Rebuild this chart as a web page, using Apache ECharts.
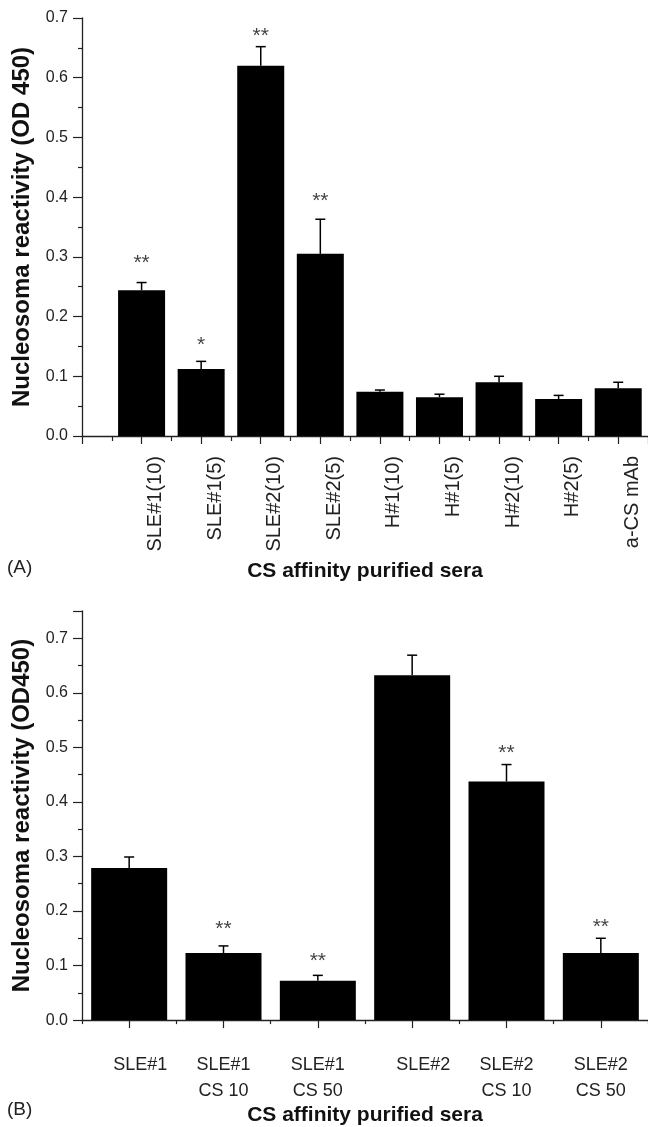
<!DOCTYPE html>
<html>
<head>
<meta charset="utf-8">
<script src="https://cdn.jsdelivr.net/npm/echarts@6/dist/echarts.min.js"></script>
<style>
html,body{margin:0;padding:0;background:#fff;}
#c{width:648px;height:1127px;}
</style>
</head>
<body>
<div id="c"></div>
<script>
// Panel A data
const catsA = ['SLE#1(10)','SLE#1(5)','SLE#2(10)','SLE#2(5)','H#1(10)','H#1(5)','H#2(10)','H#2(5)','a-CS mAb'];
const valsA = [0.244,0.112,0.620,0.305,0.074,0.065,0.090,0.062,0.080];
const errA  = [0.013,0.013,0.032,0.058,0.003,0.005,0.010,0.006,0.010];
const starsA = ['**','*','**','**','','','','',''];
const starYA = [0.298,0.161,0.678,0.401,null,null,null,null,null];
const ticksA = [0.0,0.1,0.2,0.3,0.4,0.5,0.6,0.7];

// Panel B data
const catsB = ['SLE#1','SLE#1\nCS 10','SLE#1\nCS 50','SLE#2','SLE#2\nCS 10','SLE#2\nCS 50'];
const valsB = [0.279,0.123,0.072,0.632,0.4375,0.123];
const errB  = [0.020,0.013,0.010,0.037,0.031,0.027];
const starsB = ['','**','**','','**','**'];
const starYB = [null,0.176,0.117,null,0.498,0.179];
const ticksB = [0.0,0.1,0.2,0.3,0.4,0.5,0.6,0.7];

const FONT = '"Liberation Sans", Arial, Helvetica, sans-serif';
const AX = '#222';

function errRender(params, api){
  const x = api.value(0), y = api.value(1), e = api.value(2);
  const p0 = api.coord([x, y]);
  const p1 = api.coord([x, y + e]);
  return {type:'group', children:[
    {type:'line', shape:{x1:p0[0], y1:p0[1], x2:p1[0], y2:p1[1]}, style:{stroke:'#000', lineWidth:1.5}},
    {type:'line', shape:{x1:p1[0]-5, y1:p1[1], x2:p1[0]+5, y2:p1[1]}, style:{stroke:'#000', lineWidth:1.5}}
  ]};
}

const chart = echarts.init(document.getElementById('c'), null, {renderer:'canvas'});

const yAxisCommon = (gi, max, ticks, name) => ({
  gridIndex: gi, type:'value', min:0, max:max, interval:0.1,
  name: name, nameLocation:'middle', nameGap:47, nameRotate:90,
  nameTextStyle:{fontFamily:FONT, fontWeight:'bold', fontSize:24, color:'#111'},
  axisLine:{show:true, lineStyle:{color:AX, width:1.3}},
  axisTick:{show:true, inside:false, length:9, lineStyle:{color:AX, width:1.2}},
  minorTick:{show:true, splitNumber:2, length:4, lineStyle:{color:AX, width:1.2}},
  splitLine:{show:false},
  axisLabel:{margin:14, fontFamily:FONT, fontSize:16, color:'#222',
    formatter: v => { const t = ticks.find(k => Math.abs(k - v) < 1e-6); return t === undefined ? '' : t.toFixed(1); }}
});

const option = {
  animation:false,
  backgroundColor:'#fff',
  grid:[
    {left:82, top:18, right:-2, height:418, containLabel:false},
    {left:82, top:611, right:-2, height:421, containLabel:false}
  ],
  xAxis:[
    {gridIndex:0, type:'value', min:0, max:9.5, interval:1,
      name:'CS affinity purified sera', nameLocation:'middle', nameGap:125,
      nameTextStyle:{fontFamily:FONT, fontWeight:'bold', fontSize:21, color:'#111'},
      axisLine:{show:true, onZero:false, lineStyle:{color:AX, width:1.3}},
      axisTick:{show:true, length:8, lineStyle:{color:AX, width:1.2}},
      minorTick:{show:true, splitNumber:2, length:5, lineStyle:{color:AX, width:1.2}},
      splitLine:{show:false},
      axisLabel:{rotate:90, margin:20, fontFamily:FONT, fontSize:20, color:'#222', lineHeight:28,
        formatter: v => (Number.isInteger(v) && catsA[v-1]) ? '\n' + catsA[v-1] : ''}
    },
    {gridIndex:1, type:'category', data:catsB, boundaryGap:true,
      name:'CS affinity purified sera', nameLocation:'middle', nameGap:83,
      nameTextStyle:{fontFamily:FONT, fontWeight:'bold', fontSize:21, color:'#111'},
      axisLine:{show:true, onZero:false, lineStyle:{color:AX, width:1.3}},
      axisTick:{show:true, alignWithLabel:true, length:8, lineStyle:{color:AX, width:1.2}},
      splitLine:{show:false},
      axisLabel:{margin:32, interval:0, fontFamily:FONT, fontSize:18, color:'#222', lineHeight:26,
        formatter: v => v.indexOf('\n') >= 0 ? v : '{p|' + v + '}',
        rich:{p:{fontFamily:FONT, fontSize:18, color:'#222', lineHeight:26, padding:[0,0,0,22]}}}
    },
    {gridIndex:1, type:'value', min:0, max:6, interval:1, position:'bottom',
      axisLine:{show:false}, axisLabel:{show:false}, splitLine:{show:false},
      axisTick:{show:true, length:4, lineStyle:{color:AX, width:1.2}}
    }
  ],
  yAxis:[
    yAxisCommon(0, 0.7, ticksA, 'Nucleosoma reactivity (OD 450)'),
    yAxisCommon(1, 0.75, ticksB, 'Nucleosoma reactivity (OD450)')
  ],
  series:[
    {type:'bar', xAxisIndex:0, yAxisIndex:0, barWidth:47, itemStyle:{color:'#000'},
      data: catsA.map((c,i) => [i+1, valsA[i]])},
    {type:'custom', xAxisIndex:0, yAxisIndex:0, renderItem:errRender, z:5,
      data: catsA.map((c,i) => [i+1, valsA[i], errA[i]])},
    {type:'scatter', xAxisIndex:0, yAxisIndex:0, symbolSize:0, z:6,
      label:{show:true, position:'inside', offset:[0,5], fontFamily:FONT, fontSize:21, color:'#111',
        formatter: p => p.data[2]},
      data: starsA.map((s,i) => s ? [i+1, starYA[i], s] : null).filter(Boolean)},

    {type:'bar', xAxisIndex:1, yAxisIndex:1, barWidth:76, itemStyle:{color:'#000'},
      data: valsB},
    {type:'custom', xAxisIndex:1, yAxisIndex:1, renderItem:errRender, z:5,
      data: catsB.map((c,i) => [i, valsB[i], errB[i]])},
    {type:'scatter', xAxisIndex:1, yAxisIndex:1, symbolSize:0, z:6,
      label:{show:true, position:'inside', offset:[0,5], fontFamily:FONT, fontSize:21, color:'#111',
        formatter: p => p.data[2]},
      data: starsB.map((s,i) => s ? [i, starYB[i], s] : null).filter(Boolean)}
  ],
  graphic:[
    {type:'text', left:7, top:558, style:{text:'(A)', fontFamily:FONT, fontSize:19, fill:'#222'}},
    {type:'text', left:7, top:1100, style:{text:'(B)', fontFamily:FONT, fontSize:19, fill:'#222'}}
  ]
};
chart.setOption(option);
</script>
</body>
</html>
